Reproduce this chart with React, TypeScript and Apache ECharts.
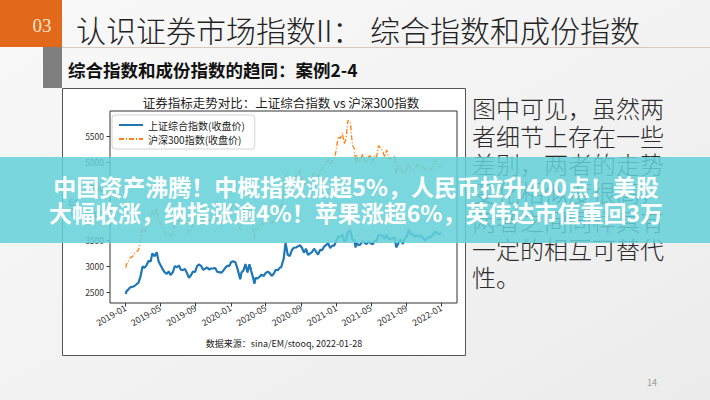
import React, { useEffect, useRef } from 'react';
import * as echarts from 'echarts';

// ---- data (weekly closes) ----
const dates2019 = ['2019-01-02','2019-01-04','2019-01-11','2019-01-18','2019-01-25','2019-02-01','2019-02-15','2019-02-22','2019-03-01','2019-03-08','2019-03-15','2019-03-22','2019-03-29','2019-04-04','2019-04-12','2019-04-19','2019-04-26','2019-05-10','2019-05-17','2019-05-24','2019-05-31','2019-06-06','2019-06-14','2019-06-21','2019-06-28','2019-07-05','2019-07-12','2019-07-19','2019-07-26','2019-08-02','2019-08-09','2019-08-16','2019-08-23','2019-08-30','2019-09-06','2019-09-12','2019-09-20','2019-09-27','2019-10-11','2019-10-18','2019-10-25','2019-11-01','2019-11-08','2019-11-15','2019-11-22','2019-11-29','2019-12-06','2019-12-13','2019-12-20','2019-12-27','2019-12-31'];
const sse2019 = [2465,2514,2553,2596,2601,2618,2682,2804,2994,2969,3021,3104,3091,3247,3189,3270,3086,2939,2882,2853,2898,2827,2882,3001,2979,3012,2931,2925,2945,2868,2775,2824,2898,2886,2999,3031,3006,2932,2973,2938,2955,2958,2964,2891,2885,2872,2912,2968,3005,3005,3050];
const csi2019 = [2969,3035,3095,3168,3184,3247,3310,3520,3749,3658,3745,3842,3872,4062,3985,4121,3889,3734,3649,3593,3629,3577,3626,3836,3825,3893,3808,3808,3858,3747,3633,3710,3803,3799,3948,3972,3935,3852,3911,3869,3898,3952,3973,3877,3849,3828,3902,3968,4017,3999,4097];

const dates2020 = ['2020-01-03','2020-01-10','2020-01-17','2020-01-23','2020-02-03','2020-02-07','2020-02-14','2020-02-21','2020-02-28','2020-03-06','2020-03-13','2020-03-20','2020-03-23','2020-03-27','2020-04-03','2020-04-10','2020-04-17','2020-04-24','2020-04-30','2020-05-08','2020-05-15','2020-05-22','2020-05-29','2020-06-05','2020-06-12','2020-06-19','2020-06-24','2020-07-03','2020-07-09','2020-07-17','2020-07-24','2020-07-31','2020-08-07','2020-08-14','2020-08-21','2020-08-28','2020-09-04','2020-09-11','2020-09-18','2020-09-25','2020-10-09','2020-10-16','2020-10-23','2020-10-30','2020-11-06','2020-11-13','2020-11-20','2020-11-27','2020-12-04','2020-12-11','2020-12-18','2020-12-25','2020-12-31'];
const sse2020 = [3083,3092,3075,2977,2746,2876,2917,3039,2880,3034,2887,2746,2660,2772,2764,2796,2838,2809,2860,2895,2868,2813,2852,2931,2920,2967,2980,3152,3450,3214,3197,3310,3354,3360,3381,3404,3355,3260,3338,3219,3272,3336,3278,3225,3312,3310,3377,3408,3444,3347,3395,3397,3473];
const csi2020 = [4144,4164,4186,4004,3689,3899,4016,4150,3940,4139,3895,3653,3530,3710,3713,3791,3839,3797,3912,3958,3914,3824,3868,3999,4003,4099,4138,4433,4774,4550,4505,4695,4701,4741,4713,4842,4670,4542,4657,4570,4681,4791,4747,4695,4858,4852,4933,4980,5050,4954,5033,5042,5211];

const dates2021 = ['2021-01-08','2021-01-15','2021-01-22','2021-01-29','2021-02-05','2021-02-10','2021-02-19','2021-02-26','2021-03-05','2021-03-09','2021-03-12','2021-03-19','2021-03-26','2021-04-02','2021-04-09','2021-04-16','2021-04-23','2021-04-30','2021-05-07','2021-05-14','2021-05-21','2021-05-28','2021-06-04','2021-06-11','2021-06-18','2021-06-25','2021-07-02','2021-07-09','2021-07-16','2021-07-23','2021-07-28','2021-08-06','2021-08-13','2021-08-20','2021-08-27','2021-09-03','2021-09-10','2021-09-17','2021-09-24','2021-09-30','2021-10-08','2021-10-15','2021-10-22','2021-10-29','2021-11-05','2021-11-12','2021-11-19','2021-11-26','2021-12-03','2021-12-10','2021-12-17','2021-12-24','2021-12-31'];
const sse2021 = [3570,3566,3607,3483,3496,3655,3696,3509,3502,3360,3453,3405,3418,3484,3451,3426,3475,3447,3418,3490,3487,3601,3592,3590,3525,3607,3519,3525,3539,3550,3361,3458,3517,3428,3522,3582,3703,3614,3613,3568,3592,3572,3583,3547,3491,3539,3560,3564,3608,3666,3632,3618,3640];
const csi2021 = [5495,5459,5570,5351,5484,5807,5779,5336,5262,4970,5146,5008,5038,5162,5035,4991,5113,5123,4995,5134,5102,5321,5273,5225,5102,5239,5082,5070,5093,5115,4764,4936,4926,4778,4790,4883,4976,4855,4854,4866,4946,4935,4948,4908,4856,4888,4896,4860,4910,5056,4954,4921,4940];

const seriesNames = ['上证综合指数(收盘价)', '沪深300指数(收盘价)'];
const xTickLabels = ['2019-01','2019-05','2019-09','2020-01','2020-05','2020-09','2021-01','2021-05','2021-09','2022-01'];
const xRange = ['2018-11-08', '2022-02-24'];
const yTickValues = [2500, 3000, 3500, 4000, 4500, 5000, 5500];

const slideTitleA = '认识证券市场指数II：';
const slideTitleB = '综合指数和成份指数';
const slideSubtitle = '综合指数和成份指数的趋同：案例2-4';
const chartTitle = '证券指标走势对比：上证综合指数 vs 沪深300指数';
const sourceNote = '数据来源：sina/EM/stooq, 2022-01-28';
const yAxisName = '点位';
const paragraph = ['图中可见，虽然两','者细节上存在一些','差别，两者的走势','变化相似度很高，','两者之间同样具有','一定的相互可替代','性。'];
const bannerLines = ['中国资产沸腾！中概指数涨超5%，人民币拉升400点！美股','大幅收涨，纳指涨逾4%！苹果涨超6%，英伟达市值重回3万'];
const sectionNo = '03';
const pageNo = '14';

const allDates = [...dates2019, ...dates2020, ...dates2021];
const sseAll = [...sse2019, ...sse2020, ...sse2021];
const csiAll = [...csi2019, ...csi2020, ...csi2021];

const CJK = '"Noto Sans CJK SC", "Noto Sans", sans-serif';

export default function App() {
  const ref = useRef<HTMLDivElement>(null);
  useEffect(() => {
    if (!ref.current) return;
    const chart = echarts.init(ref.current, null, { renderer: 'svg', width: 710, height: 400 });
    const ts = (s: string) => new Date(s + 'T00:00:00').getTime();
    const xTicks = xTickLabels.map((s) => ts(s + '-01'));
    const fmt = (v: number) => {
      const d = new Date(v);
      return d.getFullYear() + '-' + String(d.getMonth() + 1).padStart(2, '0');
    };
    const paraEls = paragraph.map((t, i) => ({
      type: 'text', z: 5,
      style: { text: t, x: 472, y: 107 + i * 28.3, align: 'left', verticalAlign: 'middle', fontSize: 24, fontWeight: 300, fontFamily: CJK, fill: '#2b2b2b' },
    }));
    const bannerEls = bannerLines.map((t, i) => ({
      type: 'text', z: 101,
      style: { text: t, x: 356, y: 186 + i * 26, align: 'center', verticalAlign: 'middle', fontSize: 23, fontWeight: 'bold', fontFamily: CJK, fill: '#ffffff' },
    }));
    chart.setOption({
      animation: false,
      backgroundColor: 'transparent',
      textStyle: { fontFamily: CJK },
      graphic: [
        { type: 'rect', z: -20, shape: { x: 0, y: 0, width: 710, height: 400 },
          style: { fill: new echarts.graphic.LinearGradient(0, 0, 1, 1, [{ offset: 0, color: '#f9f9f9' }, { offset: 1, color: '#ececec' }]) } },
        { type: 'rect', z: 1, shape: { x: 0, y: 0, width: 62, height: 47 }, style: { fill: '#e2681c' } },
        { type: 'text', z: 2, style: { text: sectionNo, x: 42, y: 25, align: 'center', verticalAlign: 'middle', fontSize: 19, fontFamily: '"Liberation Serif", serif', fill: '#fde6c6' } },
        { type: 'line', z: 1, shape: { x1: 62, y1: 47.5, x2: 710, y2: 47.5 }, style: { stroke: '#dcc8bb', lineWidth: 1 } },
        { type: 'text', z: 2, style: { text: slideTitleA, x: 76, y: 29, align: 'left', verticalAlign: 'middle', fontSize: 30, fontWeight: 300, fontFamily: CJK, fill: '#222' } },
        { type: 'text', z: 2, style: { text: slideTitleB, x: 370, y: 29, align: 'left', verticalAlign: 'middle', fontSize: 30, fontWeight: 300, fontFamily: CJK, fill: '#222' } },
        { type: 'rect', z: 1, shape: { x: 43, y: 47, width: 19, height: 41 }, style: { fill: '#7f7f7f' } },
        { type: 'text', z: 2, style: { text: slideSubtitle, x: 68, y: 69, align: 'left', verticalAlign: 'middle', fontSize: 17.5, fontWeight: 'bold', fontFamily: CJK, fill: '#111' } },
        { type: 'rect', z: -10, shape: { x: 62.5, y: 88.5, width: 403, height: 267 }, style: { fill: '#ffffff', stroke: '#555', lineWidth: 1 } },
        { type: 'text', z: 5, style: { text: chartTitle, x: 281, y: 102, align: 'center', verticalAlign: 'middle', fontSize: 12.5, fontFamily: CJK, fill: '#222' } },
        { type: 'text', z: 5, style: { text: sourceNote, x: 284, y: 343, align: 'center', verticalAlign: 'middle', fontSize: 9, fontFamily: CJK, fill: '#222' } },
        ...paraEls,
        { type: 'text', z: 5, style: { text: pageNo, x: 652, y: 382, align: 'center', verticalAlign: 'middle', fontSize: 9, fontFamily: CJK, fill: '#9a9a9a' } },
        { type: 'rect', z: 100, shape: { x: 0, y: 157, width: 710, height: 86 }, style: { fill: 'rgba(100, 209, 217, 0.86)' } },
        ...bannerEls,
      ],
      grid: { left: 110, right: 253, top: 111, bottom: 97, show: true, borderColor: '#333', borderWidth: 1, backgroundColor: 'transparent', containLabel: false },
      legend: {
        left: 112, top: 115, orient: 'vertical', itemGap: 4, itemWidth: 24, itemHeight: 10,
        padding: [5, 10, 5, 6], backgroundColor: 'rgba(255,255,255,0.85)', borderColor: '#d4d4d4', borderWidth: 1, borderRadius: 3,
        itemStyle: { color: 'transparent', borderColor: 'transparent', borderWidth: 0, opacity: 0 },
        textStyle: { fontSize: 10, color: '#222', fontFamily: CJK },
        data: seriesNames,
      },
      xAxis: {
        type: 'value', min: ts(xRange[0]), max: ts(xRange[1]),
        axisLine: { show: false },
        axisTick: { show: true, length: 3.5, lineStyle: { color: '#333' }, customValues: xTicks },
        axisLabel: { customValues: xTicks, formatter: fmt, rotate: 30, fontSize: 9, color: '#333', margin: 4, fontFamily: CJK, hideOverlap: false },
        splitLine: { show: false },
      },
      yAxis: {
        type: 'value', min: 2290, max: 5990,
        name: yAxisName, nameLocation: 'middle', nameGap: 33, nameRotate: 90,
        nameTextStyle: { fontSize: 9, color: '#333', fontFamily: CJK },
        axisLine: { show: false },
        axisTick: { show: true, length: 3.5, lineStyle: { color: '#333' }, customValues: yTickValues },
        axisLabel: { customValues: yTickValues, formatter: (v: number) => String(v), fontSize: 8.5, color: '#333', margin: 6, fontFamily: CJK },
        splitLine: { show: false },
      },
      series: [
        {
          name: seriesNames[0], type: 'line', showSymbol: false, symbol: 'none', z: 3,
          data: allDates.map((d, i) => [ts(d), sseAll[i]]),
          lineStyle: { color: '#1f77b4', width: 2.2 }, itemStyle: { color: '#1f77b4' },
        },
        {
          name: seriesNames[1], type: 'line', showSymbol: false, symbol: 'none', z: 4,
          data: allDates.map((d, i) => [ts(d), csiAll[i]]),
          lineStyle: { color: '#ff7f0e', width: 1.3, type: [5, 2, 1, 2] }, itemStyle: { color: '#ff7f0e' },
        },
      ],
    });
    return () => chart.dispose();
  }, []);
  return <div ref={ref} style={{ position: 'absolute', left: 0, top: 0, width: 710, height: 400, background: '#f2f2f2' }} />;
}
